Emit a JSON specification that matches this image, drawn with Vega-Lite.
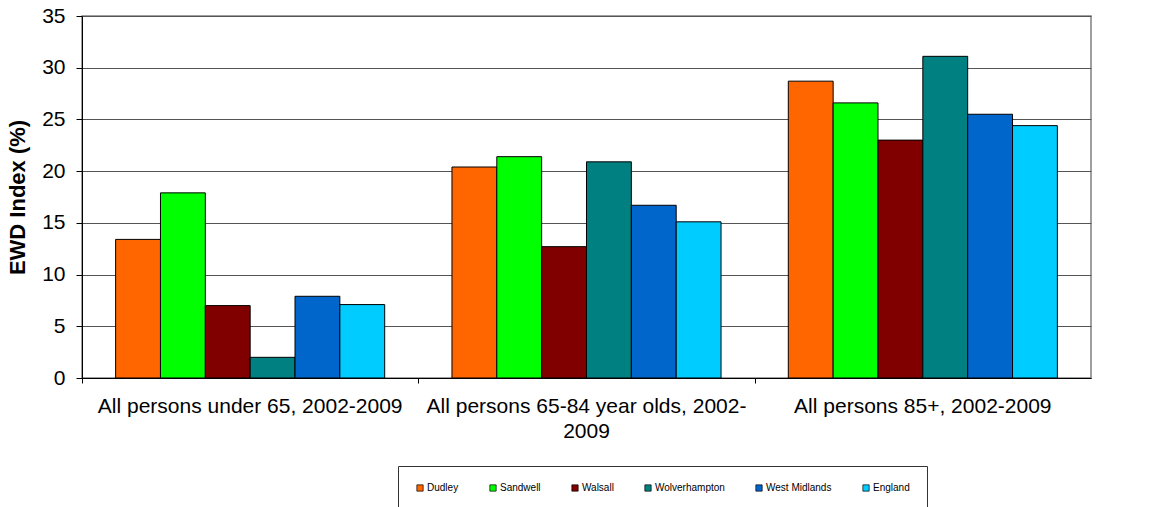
{
  "$schema": "https://vega.github.io/schema/vega-lite/v6.json",
  "autosize": {"type": "none"},
  "width": 1009,
  "height": 362,
  "padding": {"left": 82, "top": 16, "right": 62, "bottom": 129},
  "background": "white",
  "config": {
    "font": "Liberation Sans",
    "view": {"stroke": "#808080", "strokeWidth": 1.5}
  },
  "data": {
    "values": [
      {"group": "All persons under 65, 2002-2009", "area": "Dudley", "value": 13.4},
      {"group": "All persons under 65, 2002-2009", "area": "Sandwell", "value": 17.9},
      {"group": "All persons under 65, 2002-2009", "area": "Walsall", "value": 7.0},
      {"group": "All persons under 65, 2002-2009", "area": "Wolverhampton", "value": 2.0},
      {"group": "All persons under 65, 2002-2009", "area": "West Midlands", "value": 7.9},
      {"group": "All persons under 65, 2002-2009", "area": "England", "value": 7.1},
      {"group": "All persons 65-84 year olds, 2002-2009", "area": "Dudley", "value": 20.4},
      {"group": "All persons 65-84 year olds, 2002-2009", "area": "Sandwell", "value": 21.4},
      {"group": "All persons 65-84 year olds, 2002-2009", "area": "Walsall", "value": 12.7},
      {"group": "All persons 65-84 year olds, 2002-2009", "area": "Wolverhampton", "value": 20.9},
      {"group": "All persons 65-84 year olds, 2002-2009", "area": "West Midlands", "value": 16.7},
      {"group": "All persons 65-84 year olds, 2002-2009", "area": "England", "value": 15.1},
      {"group": "All persons 85+, 2002-2009", "area": "Dudley", "value": 28.7},
      {"group": "All persons 85+, 2002-2009", "area": "Sandwell", "value": 26.6},
      {"group": "All persons 85+, 2002-2009", "area": "Walsall", "value": 23.0},
      {"group": "All persons 85+, 2002-2009", "area": "Wolverhampton", "value": 31.1},
      {"group": "All persons 85+, 2002-2009", "area": "West Midlands", "value": 25.5},
      {"group": "All persons 85+, 2002-2009", "area": "England", "value": 24.4}
    ]
  },
  "resolve": {"axis": {"x": "independent"}},
  "layer": [
    {
      "mark": {"type": "bar", "stroke": "black", "strokeWidth": 1},
      "encoding": {
        "x": {
          "field": "group",
          "type": "nominal",
          "sort": null,
          "scale": {"paddingInner": 0.2, "paddingOuter": 0.1},
          "axis": {
            "orient": "bottom",
            "title": null,
            "labelAngle": 0,
            "labelFontSize": 21,
            "labelColor": "black",
            "labelPadding": 17,
            "ticks": false,
            "domainColor": "black",
            "domainWidth": 1,
            "labelLimit": 500,
            "labelLineHeight": 25,
            "labelExpr": "datum.value == 'All persons 65-84 year olds, 2002-2009' ? ['All persons 65-84 year olds, 2002-', '2009'] : datum.value"
          }
        },
        "xOffset": {
          "field": "area",
          "type": "nominal",
          "sort": ["Dudley", "Sandwell", "Walsall", "Wolverhampton", "West Midlands", "England"],
          "scale": {"paddingInner": 0, "paddingOuter": 0}
        },
        "y": {
          "field": "value",
          "type": "quantitative",
          "scale": {"domain": [0, 35], "nice": false},
          "axis": {
            "title": "EWD Index (%)",
            "titleFontSize": 22,
            "titleFontWeight": "bold",
            "titleColor": "black",
            "titlePadding": 12,
            "values": [0, 5, 10, 15, 20, 25, 30, 35],
            "labelFontSize": 21,
            "labelColor": "black",
            "labelPadding": 11,
            "tickSize": 6,
            "tickColor": "black",
            "domainColor": "black",
            "gridColor": "#555555",
            "gridWidth": 1
          }
        },
        "color": {
          "field": "area",
          "type": "nominal",
          "sort": ["Dudley", "Sandwell", "Walsall", "Wolverhampton", "West Midlands", "England"],
          "scale": {
            "domain": ["Dudley", "Sandwell", "Walsall", "Wolverhampton", "West Midlands", "England"],
            "range": ["#FF6600", "#00FF00", "#800000", "#008080", "#0066CC", "#00CCFF"]
          },
          "legend": {
            "title": null,
            "orient": "none",
            "legendX": 316,
            "legendY": 450,
            "direction": "horizontal",
            "columns": 6,
            "symbolType": "square",
            "symbolSize": 40,
            "symbolStrokeColor": "black",
            "symbolStrokeWidth": 0.7,
            "symbolOpacity": 1,
            "labelFont": "Liberation Sans",
            "labelFontSize": 10,
            "labelColor": "black",
            "labelOffset": 2,
            "labelLimit": 400,
            "labelExpr": "datum.label == 'England' ? pad(datum.label, 100, '\u00a0') : datum.label",
            "columnPadding": 29,
            "padding": 17,
            "strokeColor": "#333333",
            "fillColor": "white"
          }
        }
      }
    },
    {
      "mark": {"type": "rule", "opacity": 0},
      "encoding": {
        "x": {
          "field": "group",
          "type": "nominal",
          "sort": null,
          "axis": {
            "orient": "bottom",
            "title": null,
            "labels": false,
            "domain": false,
            "grid": false,
            "ticks": true,
            "tickSize": 5,
            "tickColor": "black",
            "bandPosition": 0,
            "tickOffset": -33.6
          }
        }
      }
    }
  ]
}
